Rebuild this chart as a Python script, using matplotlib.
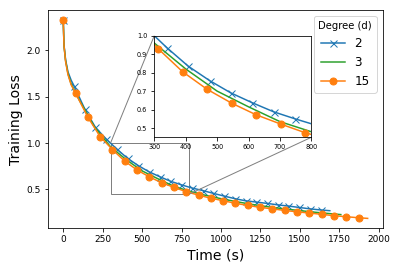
import numpy as np
import matplotlib
matplotlib.use('Agg')
import matplotlib.pyplot as plt
from mpl_toolkits.axes_grid1.inset_locator import mark_inset

# degree 2 (blue, x markers)
t_d2 = [0, 5, 15, 30, 50, 68, 136, 204, 272, 340, 408, 476, 544, 612, 680, 748,
        816, 884, 952, 1020, 1088, 1156, 1224, 1292, 1360, 1428, 1496, 1564, 1632, 1690]
loss_d2 = [2.33, 2.06, 1.90, 1.77, 1.68, 1.62, 1.37, 1.17, 1.045, 0.935, 0.835, 0.757,
           0.69, 0.637, 0.588, 0.55, 0.515, 0.488, 0.457, 0.428, 0.40, 0.377, 0.363,
           0.349, 0.333, 0.32, 0.305, 0.29, 0.278, 0.27]

# degree 3 (green, no markers)
t_d3 = [0, 5, 15, 30, 50, 100, 200, 300, 400, 500, 600, 700, 800, 900, 1000,
        1100, 1200, 1300, 1400, 1500, 1600, 1700, 1760]
loss_d3 = [2.33, 2.05, 1.89, 1.75, 1.64, 1.47, 1.17, 0.96, 0.82, 0.70, 0.615, 0.535,
           0.48, 0.437, 0.40, 0.367, 0.337, 0.312, 0.29, 0.271, 0.253, 0.237, 0.228]

# degree 15 (orange, circle markers)
t_d15 = [0, 5, 15, 30, 50, 78, 156, 234, 312, 390, 468, 546, 624, 702, 780, 858, 936,
         1014, 1092, 1170, 1248, 1326, 1404, 1482, 1560, 1638, 1716, 1794, 1872, 1930]
loss_d15 = [2.33, 2.05, 1.88, 1.74, 1.63, 1.54, 1.28, 1.07, 0.93, 0.805, 0.71, 0.635,
            0.572, 0.522, 0.475, 0.438, 0.405, 0.378, 0.35, 0.327, 0.306, 0.29, 0.273,
            0.258, 0.245, 0.231, 0.216, 0.205, 0.194, 0.187]

marks_d2 = [0] + list(range(5, 29))
marks_d15 = [0] + list(range(5, 29))

fig = plt.figure(figsize=(398 / 72, 270 / 72), dpi=72)
ax = fig.add_axes([0.1206, 0.1544, 0.8414, 0.8086])


def draw(a, ms):
    a.plot(t_d2, loss_d2, color='#1f77b4', marker='x', markersize=ms,
           markevery=marks_d2, label='2')
    a.plot(t_d3, loss_d3, color='#2ca02c', label='3')
    a.plot(t_d15, loss_d15, color='#ff7f0e', marker='o', markersize=ms,
           markevery=marks_d15, label='15')


draw(ax, 7)
ax.set_xticks([0, 250, 500, 750, 1000, 1250, 1500, 1750, 2000])
ax.set_yticks([0.5, 1.0, 1.5, 2.0])
ax.tick_params(labelsize=9)
ax.set_xlabel('Time (s)', fontsize=14)
ax.set_ylabel('Training Loss', fontsize=14)
ax.legend(title='Degree (d)', loc='upper right', fontsize=12, title_fontsize=10)

# zoomed inset
axins = fig.add_axes([0.3877, 0.4915, 0.3945, 0.3763])
draw(axins, 7)
axins.set_xlim(300, 800)
axins.set_ylim(0.45, 1.0)
axins.set_xticks([300, 400, 500, 600, 700, 800])
axins.set_yticks([0.5, 0.6, 0.7, 0.8, 0.9, 1.0])
axins.tick_params(labelsize=6.5)
mark_inset(ax, axins, loc1=2, loc2=4, fc='none', ec='0.5')

fig.savefig('out.png', dpi=72)
